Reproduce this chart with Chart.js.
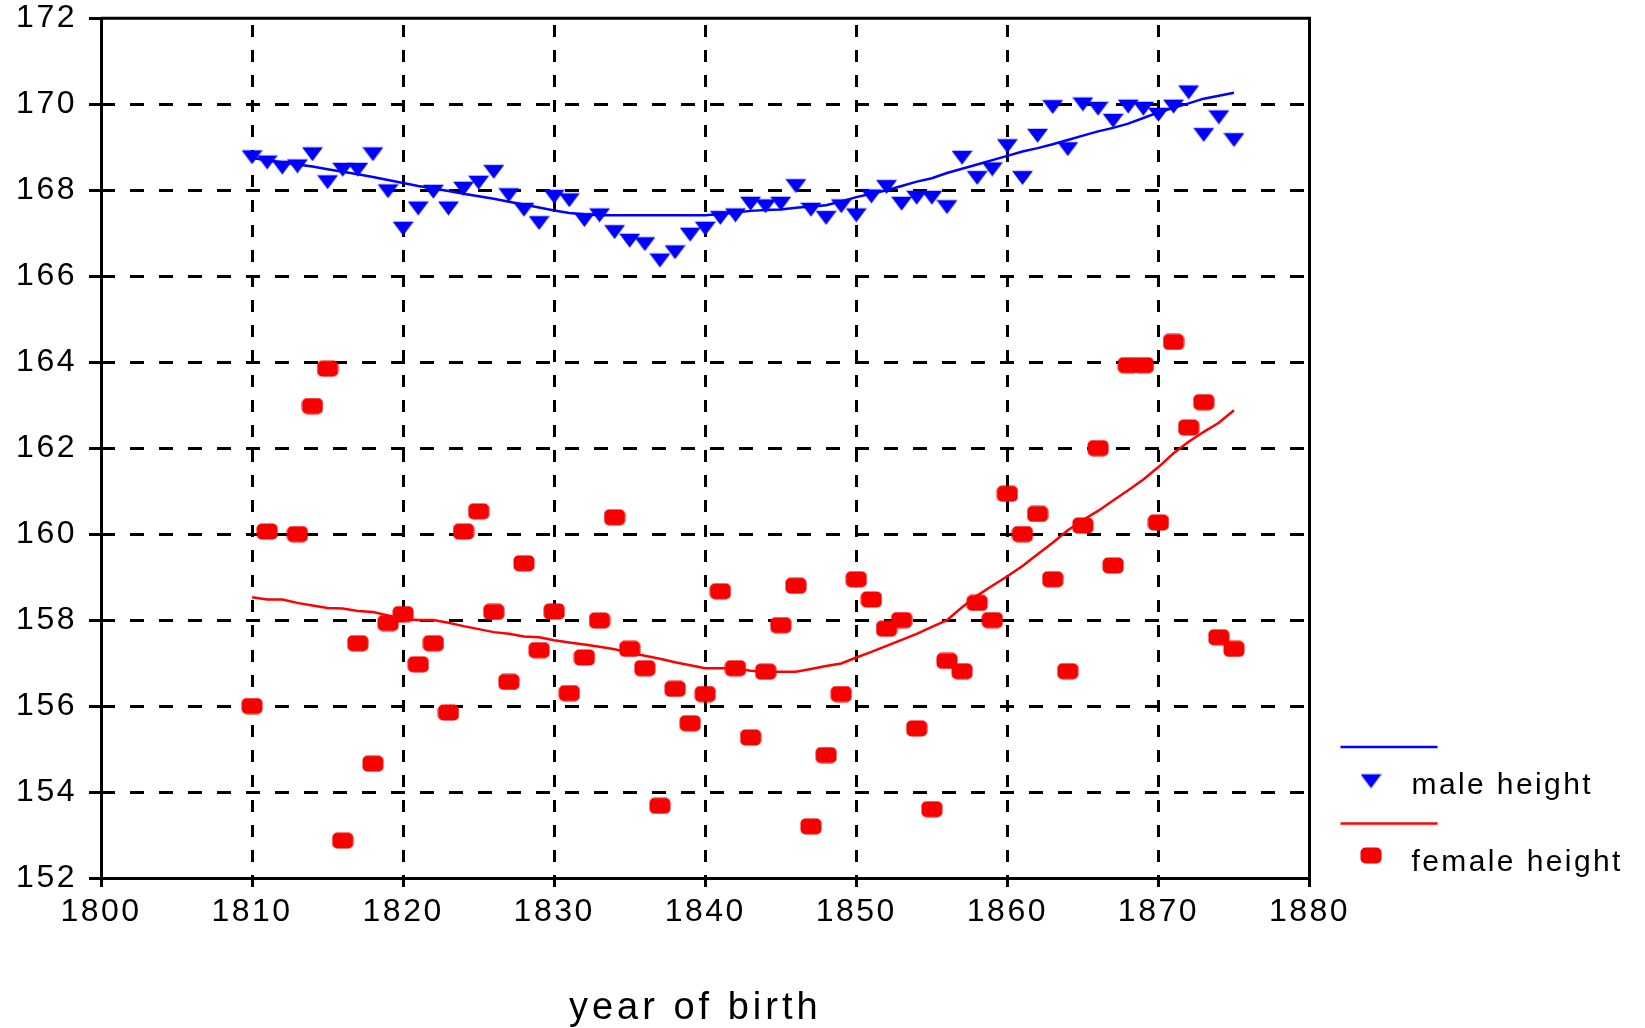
<!DOCTYPE html>
<html><head><meta charset="utf-8">
<script src="https://cdn.jsdelivr.net/npm/chart.js@4.4.1/dist/chart.umd.min.js"></script>
<style>html,body{margin:0;padding:0;background:#fff;overflow:hidden}</style>
</head><body>
<canvas id="c" width="1645" height="1028"></canvas>
<script>
const years = [1810,1811,1812,1813,1814,1815,1816,1817,1818,1819,
  1820,1821,1822,1823,1824,1825,1826,1827,1828,1829,
  1830,1831,1832,1833,1834,1835,1836,1837,1838,1839,
  1840,1841,1842,1843,1844,1845,1846,1847,1848,1849,
  1850,1851,1852,1853,1854,1855,1856,1857,1858,1859,
  1860,1861,1862,1863,1864,1865,1866,1867,1868,1869,
  1870,1871,1872,1873,1874,1875];
const maleHeight = [168.82,168.70,168.58,168.61,168.89,168.24,168.53,168.53,168.89,168.03,
  167.16,167.63,168.02,167.63,168.09,168.23,168.48,167.94,167.60,167.29,
  167.90,167.82,167.36,167.47,167.08,166.88,166.80,166.42,166.61,167.02,
  167.16,167.41,167.47,167.74,167.68,167.74,168.15,167.60,167.41,167.68,
  167.47,167.91,168.13,167.74,167.88,167.88,167.66,168.81,168.34,168.54,
  169.08,168.34,169.32,169.99,169.01,170.05,169.95,169.67,170.00,169.95,
  169.81,170.00,170.33,169.34,169.75,169.22];
const femaleHeight = [156.00,160.06,null,160.00,162.98,163.85,152.87,157.46,154.66,157.93,
  158.14,156.97,157.46,155.85,160.06,160.53,158.19,156.56,159.32,157.30,
  158.20,156.30,157.13,157.99,160.39,157.33,156.88,153.68,156.40,155.60,
  156.28,158.67,156.88,155.27,156.80,157.88,158.80,153.20,154.86,156.28,
  158.95,158.48,157.80,158.00,155.48,153.60,157.05,156.81,158.40,158.00,
  160.94,160.00,160.47,158.95,156.81,160.20,162.00,159.27,163.93,163.93,
  160.27,164.47,162.48,163.07,157.60,157.33];
const maleTrend = [168.75,168.70,168.65,168.60,168.55,168.49,168.43,168.37,168.31,168.24,
  168.17,168.10,168.04,167.98,167.92,167.86,167.80,167.73,167.67,167.60,
  167.53,167.47,167.44,167.42,167.42,167.42,167.42,167.42,167.42,167.42,
  167.42,167.45,167.48,167.52,167.54,167.55,167.59,167.62,167.65,167.74,
  167.84,167.92,168.00,168.10,168.20,168.28,168.40,168.50,168.60,168.70,
  168.80,168.90,168.98,169.07,169.17,169.27,169.37,169.45,169.55,169.68,
  169.81,169.92,170.02,170.13,170.20,170.27];
const femaleTrend = [158.53,158.48,158.48,158.40,158.34,158.28,158.27,158.21,158.19,158.11,
  158.02,158.00,158.00,157.94,157.86,157.79,157.72,157.68,157.62,157.60,
  157.53,157.48,157.43,157.38,157.32,157.24,157.17,157.10,157.02,156.95,
  156.88,156.88,156.88,156.82,156.80,156.80,156.80,156.86,156.93,156.99,
  157.13,157.26,157.40,157.54,157.68,157.84,158.00,158.30,158.57,158.80,
  159.02,159.26,159.53,159.80,160.09,160.33,160.54,160.78,161.02,161.27,
  161.56,161.88,162.15,162.38,162.59,162.88];
const seriesLabels = ['male height','female height'];
const xAxisTitle = 'year of birth';

const BLUE = '#0000FF', RED = '#FF0000';
const FONT = "'Liberation Sans', Arial, sans-serif";
Chart.defaults.font.family = FONT;

function makeTriangle(color){
  const c = document.createElement('canvas'); c.width = 21; c.height = 19;
  const g = c.getContext('2d');
  g.fillStyle = color; g.beginPath();
  g.moveTo(0,4.8); g.lineTo(21,4.8); g.lineTo(10.5,18.8); g.closePath(); g.fill();
  return c;
}
function makeBlob(color){
  const c = document.createElement('canvas'); c.width = 22; c.height = 17;
  const g = c.getContext('2d');
  g.beginPath(); g.roundRect(0.5,0.5,21,16,5); g.fillStyle = color; g.fill();
  g.save(); g.clip();
  g.strokeStyle = 'rgba(150,0,0,0.35)'; g.lineWidth = 0.7;
  for (let x = -12; x < 24; x += 4){ g.beginPath(); g.moveTo(x,0); g.lineTo(x+5,17); g.stroke(); }
  g.restore();
  return c;
}
const triImg = makeTriangle(BLUE);
const blobImg = makeBlob(RED);

const toPts = (vals) => years.map((yr,i)=>({x:yr,y:vals[i]})).filter(p=>p.y!==null);

const spacingPlugin = {
  id:'spacing',
  beforeLayout(c){ c.ctx.letterSpacing = '2.5px'; },
  beforeDraw(c){ c.ctx.letterSpacing = '2.5px'; },
  afterLayout(chart){
    const s = chart.scales.x;
    if (s._titleWrapped) return;
    const orig = s.drawTitle.bind(s);
    s.drawTitle = function(){
      const ctx = this.ctx; ctx.save(); ctx.letterSpacing = '4px'; ctx.translate(-10,0); orig(); ctx.restore();
    };
    s._titleWrapped = true;
  }
};
const framePlugin = {
  id:'frame',
  afterDraw(chart){
    const {ctx, chartArea:a} = chart;
    ctx.save();
    ctx.strokeStyle = '#000'; ctx.lineWidth = 3; ctx.setLineDash([]);
    ctx.beginPath();
    ctx.moveTo(a.left, a.top); ctx.lineTo(a.right, a.top); ctx.lineTo(a.right, a.bottom);
    ctx.stroke();
    ctx.restore();
  }
};
const legendPlugin = {
  id:'sideLegend',
  afterDraw(chart){
    const {ctx, chartArea:a} = chart;
    const ds = chart.data.datasets;
    const entries = [[ds[0], ds[1]], [ds[2], ds[3]]];
    ctx.save();
    ctx.font = "30px " + FONT;
    ctx.letterSpacing = '2.4px';
    ctx.textBaseline = 'alphabetic';
    ctx.textAlign = 'left';
    entries.forEach(([line, pts], i) => {
      const y0 = a.bottom - 131 + i * 76.5;
      ctx.strokeStyle = line.borderColor; ctx.lineWidth = 2.5; ctx.setLineDash([]);
      ctx.beginPath(); ctx.moveTo(a.right + 31, y0); ctx.lineTo(a.right + 128, y0); ctx.stroke();
      const img = pts.pointStyle;
      ctx.drawImage(img, a.right + 61.5 - img.width/2, y0 + 32 - img.height/2);
      ctx.fillStyle = '#000';
      ctx.fillText(pts.label, a.right + 102, y0 + 47);
    });
    ctx.restore();
  }
};

const edgeColor = (edges) => (c) => (c.tick && edges.includes(c.tick.value)) ? 'rgba(0,0,0,0)' : '#000';

new Chart(document.getElementById('c'), {
  type:'scatter',
  data:{
    datasets:[
      {label:seriesLabels[0]+' trend', data:toPts(maleTrend), showLine:true, borderColor:BLUE, backgroundColor:BLUE, borderWidth:2.5, pointRadius:0, tension:0},
      {label:seriesLabels[0], data:toPts(maleHeight), showLine:false, pointStyle:triImg, pointRadius:10, pointHoverRadius:10, backgroundColor:BLUE, borderColor:BLUE},
      {label:seriesLabels[1]+' trend', data:toPts(femaleTrend), showLine:true, borderColor:RED, backgroundColor:RED, borderWidth:2.5, pointRadius:0, tension:0},
      {label:seriesLabels[1], data:toPts(femaleHeight), showLine:false, pointStyle:blobImg, pointRadius:10, pointHoverRadius:10, backgroundColor:RED, borderColor:RED}
    ]
  },
  options:{
    responsive:false, animation:false, devicePixelRatio:1,
    layout:{padding:{top:18.3, right:335.5, bottom:0, left:0}},
    plugins:{legend:{display:false}, tooltip:{enabled:false}},
    scales:{
      x:{
        type:'linear', min:1800, max:1880,
        ticks:{stepSize:10, color:'#000', padding:9.5, font:{size:32, lineHeight:1}, callback:v=>String(v)},
        grid:{color:edgeColor([1800,1880]), lineWidth:3, tickLength:9, tickWidth:3, tickColor:'#000'},
        border:{display:true, color:'#000', width:3, dash:[12,13], dashOffset:18.3},
        title:{display:true, text:xAxisTitle, color:'#000', font:{size:38, lineHeight:1}, padding:{top:0, bottom:0}},
        afterFit(s){ s.height = 150; }
      },
      y:{
        type:'linear', min:152, max:172,
        ticks:{stepSize:2, color:'#000', padding:12, font:{size:32, lineHeight:0.3}},
        grid:{color:edgeColor([152,172]), lineWidth:3, tickLength:12, tickWidth:3, tickColor:'#000'},
        border:{display:true, color:'#000', width:3, dash:[14,15], dashOffset:2},
        afterFit(s){ s.width = 101; }
      }
    }
  },
  plugins:[spacingPlugin, framePlugin, legendPlugin]
});
</script>
</body></html>
